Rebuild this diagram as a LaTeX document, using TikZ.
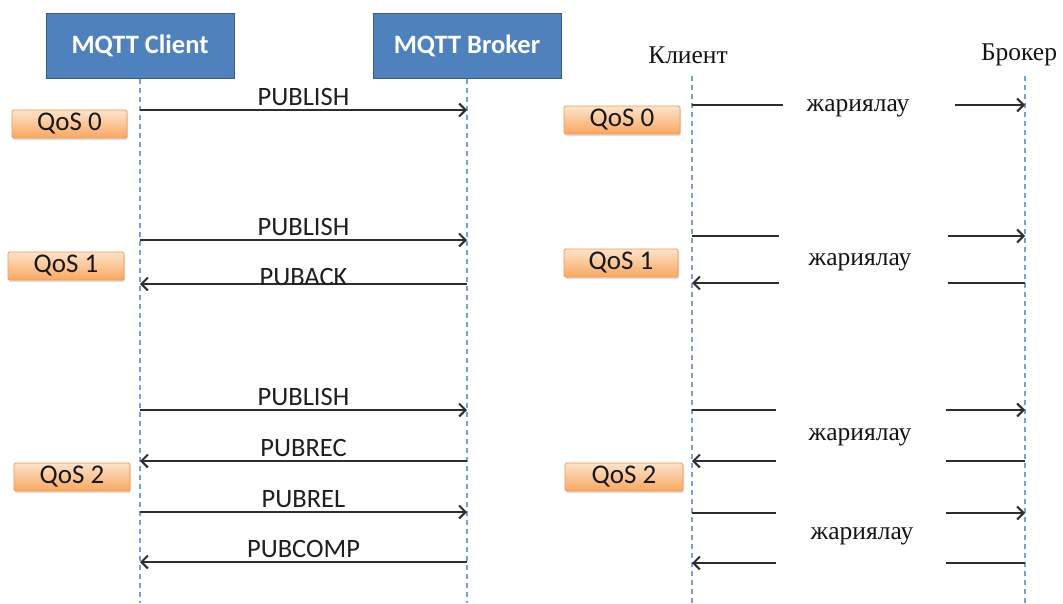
\documentclass[tikz,border=0pt]{standalone}
\usepackage{fontspec}
\setmainfont{Carlito}
\newfontfamily\cyrserif{Liberation Serif}
\usetikzlibrary{arrows.meta,shadows}
\definecolor{boxblue}{HTML}{4F81BD}
\definecolor{boxedge}{HTML}{385D8A}
\definecolor{lifeblue}{HTML}{6FA3DA}
\definecolor{qostop}{HTML}{FDE3CC}
\definecolor{qosbot}{HTML}{F9A760}
\definecolor{qosedge}{HTML}{F2994E}
\definecolor{msg}{HTML}{2E2E2E}

\begin{document}
\begin{tikzpicture}[x=1pt,y=-1pt,
  actor/.style={draw=boxedge, line width=1pt, fill=boxblue, text=white,
    font=\fontsize{26.5}{30}\selectfont\bfseries,
    minimum width=188pt, minimum height=65pt, inner sep=0pt},
  qos/.style={draw=qosedge, line width=0.8pt, top color=qostop, bottom color=qosbot,
    rounded corners=1.5pt, minimum height=28pt, inner sep=0pt,
    font=\fontsize{27}{30}\selectfont, text=black!90,
    drop shadow={shadow xshift=1pt, shadow yshift=-2pt, opacity=0.25}},
  lifeline/.style={draw=lifeblue, line width=1.1pt, dash pattern=on 5pt off 4pt},
  msgline/.style={draw=msg, line width=2.2pt},
  msgarrow/.style={msgline, -{Straight Barb[length=6.5pt,width=13pt,line width=2pt]}},
  msglabel/.style={font=\fontsize{26.5}{30}\selectfont, text=black!88, inner sep=0pt},
  cyrlabel/.style={font=\cyrserif\fontsize{25.5}{29}\selectfont, text=black!92, inner sep=0pt}
]
\useasboundingbox (0,0) rectangle (1063,603);

% ---------- left: MQTT exchange ----------
\node[actor] (client) at (140,45.5) {MQTT Client};
\node[actor] (broker) at (467,45.5) {MQTT Broker};
\coordinate (clientEnd) at (140,603);
\coordinate (brokerEnd) at (467,603);
\draw[lifeline] (client.south) -- (clientEnd);
\draw[lifeline] (broker.south) -- (brokerEnd);

\node[qos, minimum width=115pt] (lq0) at (69.5,124) {QoS 0};
\node[qos, minimum width=116pt] (lq1) at (66,266) {QoS 1};
\node[qos, minimum width=116pt] (lq2) at (72,477) {QoS 2};

% message end points on the lifelines
\foreach \n/\y in {a/110, b/240, c/284, d/410, e/461, f/512, g/562} {
  \coordinate (c\n) at (140,\y);
  \coordinate (b\n) at (467,\y);
}
\draw[msgarrow] (ca) -- (ba) node[msglabel, midway, anchor=base, yshift=5pt] (la) {PUBLISH};
\draw[msgarrow] (cb) -- (bb) node[msglabel, midway, anchor=base, yshift=5pt] (lb) {PUBLISH};
\draw[msgarrow] (bc) -- (cc) node[msglabel, midway, anchor=base, yshift=-1pt] (lc) {PUBACK};
\draw[msgarrow] (cd) -- (bd) node[msglabel, midway, anchor=base, yshift=5pt] (ld) {PUBLISH};
\draw[msgarrow] (be) -- (ce) node[msglabel, midway, anchor=base, yshift=5pt] (le) {PUBREC};
\draw[msgarrow] (cf) -- (bf) node[msglabel, midway, anchor=base, yshift=5pt] (lf) {PUBREL};
\draw[msgarrow] (bg) -- (cg) node[msglabel, midway, anchor=base, yshift=5pt] (lg) {PUBCOMP};

% ---------- right: the same exchange, labelled in Kazakh ----------
\node[cyrlabel] (rclient) at (688,55) {Клиент};
\node[cyrlabel] (rbroker) at (1019,55) {Брокер};
\coordinate (rcTop) at (692,76);
\coordinate (rbTop) at (1025,76);
\coordinate (rcEnd) at (692,603);
\coordinate (rbEnd) at (1025,603);
\draw[lifeline] (rcTop) -- (rcEnd);
\draw[lifeline] (rbTop) -- (rbEnd);

\node[qos, minimum width=116pt] (rq0) at (622,120) {QoS 0};
\node[qos, minimum width=114pt] (rq1) at (621,263) {QoS 1};
\node[qos, minimum width=118pt] (rq2) at (624,477) {QoS 2};

% each message is split around the gap that holds its label
\foreach \n/\y/\gl/\gr in {a/105/783/955, b/236/779/948, c/283/779/948,
                            d/410/776/946, e/461/776/946, f/513/776/946, g/563/776/946} {
  \coordinate (rc\n) at (692,\y);
  \coordinate (rb\n) at (1025,\y);
  \coordinate (gl\n) at (\gl,\y);
  \coordinate (gr\n) at (\gr,\y);
}
% client -> broker
\foreach \n in {a,b,d,f} {
  \draw[msgline] (rc\n) -- (gl\n);
  \draw[msgarrow] (gr\n) -- (rb\n);
}
% broker -> client
\foreach \n in {c,e,g} {
  \draw[msgline] (rb\n) -- (gr\n);
  \draw[msgarrow] (gl\n) -- (rc\n);
}
\node[cyrlabel] (rl0) at (858,108) {жариялау};
\node[cyrlabel] (rl1) at (860,262) {жариялау};
\node[cyrlabel] (rl2) at (860,437) {жариялау};
\node[cyrlabel] (rl3) at (862,536) {жариялау};
\end{tikzpicture}
\end{document}
